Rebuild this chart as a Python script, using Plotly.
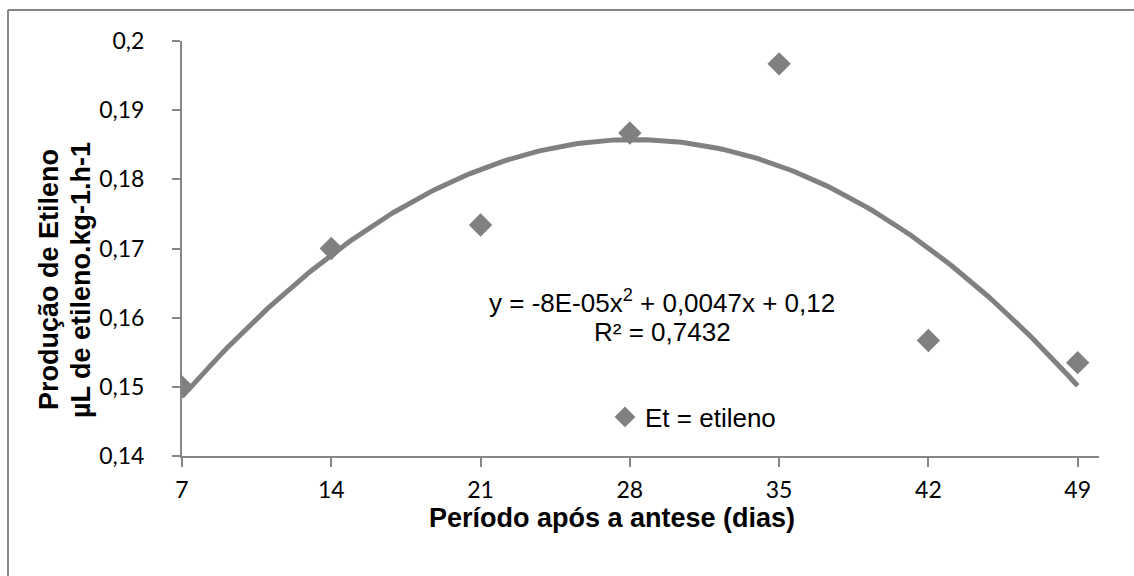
import numpy as np
import plotly.graph_objects as go

# Data
dias = [7, 14, 21, 28, 35, 42, 49]
etileno = [0.1500, 0.1700, 0.1734, 0.1867, 0.1967, 0.1567, 0.1535]
x_ticks = [7, 14, 21, 28, 35, 42, 49]
y_ticks = [0.14, 0.15, 0.16, 0.17, 0.18, 0.19, 0.20]
y_tick_labels = ["0,14", "0,15", "0,16", "0,17", "0,18", "0,19", "0,2"]
equation_line1 = "y = -8E-05x<sup>2</sup> + 0,0047x + 0,12"
equation_line2 = "R² = 0,7432"
series_name = "Et = etileno"
x_title = "Período após a antese (dias)"
y_title_line1 = "Produção de Etileno"
y_title_line2 = "µL de etileno.kg-1.h-1"

# Quadratic trendline (polynomial order 2) computed from the data
coef = np.polyfit(dias, etileno, 2)
xf = np.linspace(min(dias), max(dias), 200)
yf = np.polyval(coef, xf)

W, H = 1134, 576
L, R, T, B = 182, 35, 41, 120
pw, ph = W - L - R, H - T - B
def px_x(p):
    return (p - L) / pw
def px_y(p):
    return (H - B - p) / ph

GRAY = "#808080"
AX = "#868686"

fig = go.Figure()
fig.add_trace(go.Scatter(
    x=xf, y=yf, mode="lines", showlegend=False, hoverinfo="skip",
    line=dict(color=GRAY, width=5)))
fig.add_trace(go.Scatter(
    x=dias, y=etileno, mode="markers", name=series_name,
    marker=dict(symbol="diamond", size=18, color=GRAY)))

tickfont = dict(family="Lato", size=23, color="black")
titlefont = dict(family="Liberation Sans", size=27, color="black", weight="bold")
fig.update_layout(
    width=W, height=H,
    margin=dict(l=L, r=R, t=T, b=B),
    paper_bgcolor="white", plot_bgcolor="white",
    showlegend=True,
    legend=dict(x=px_x(605), y=px_y(417), xanchor="left", yanchor="middle",
                bgcolor="rgba(0,0,0,0)",
                font=dict(family="Liberation Sans", size=26, color="black")),
    xaxis=dict(range=[7, 50], tickvals=x_ticks, showgrid=False, zeroline=False,
               showline=True, linecolor=AX, linewidth=2,
               ticks="outside", ticklen=9, tickwidth=2, tickcolor=AX,
               ticklabelstandoff=3, tickfont=tickfont),
    yaxis=dict(range=[0.14, 0.2], tickvals=y_ticks, ticktext=y_tick_labels,
               showgrid=False, zeroline=False,
               showline=True, linecolor=AX, linewidth=2,
               ticks="outside", ticklen=8, tickwidth=2, tickcolor=AX,
               ticklabelstandoff=23, tickfont=tickfont),
    annotations=[
        dict(xref="paper", yref="paper", x=px_x(662), y=px_y(301),
             text=equation_line1, showarrow=False, xanchor="center", yanchor="middle",
             font=dict(family="Liberation Sans", size=26, color="black")),
        dict(xref="paper", yref="paper", x=px_x(662), y=px_y(332),
             text=equation_line2, showarrow=False, xanchor="center", yanchor="middle",
             font=dict(family="Liberation Sans", size=26, color="black")),
        dict(xref="paper", yref="paper", x=px_x(612), y=px_y(518),
             text=x_title, showarrow=False,
             xanchor="center", yanchor="middle", font=titlefont),
        dict(xref="paper", yref="paper", x=px_x(49), y=px_y(280),
             text=y_title_line1, showarrow=False,
             textangle=-90, xanchor="center", yanchor="middle", font=titlefont),
        dict(xref="paper", yref="paper", x=px_x(81), y=px_y(280),
             text=y_title_line2, showarrow=False,
             textangle=-90, xanchor="center", yanchor="middle", font=titlefont),
    ],
    shapes=[
        dict(type="line", xref="paper", yref="paper", x0=px_x(8), x1=px_x(1140),
             y0=px_y(10), y1=px_y(10), line=dict(color=AX, width=2)),
        dict(type="line", xref="paper", yref="paper", x0=px_x(8), x1=px_x(8),
             y0=px_y(10), y1=px_y(590), line=dict(color=AX, width=2)),
    ],
)

fig.write_html("out.html")
